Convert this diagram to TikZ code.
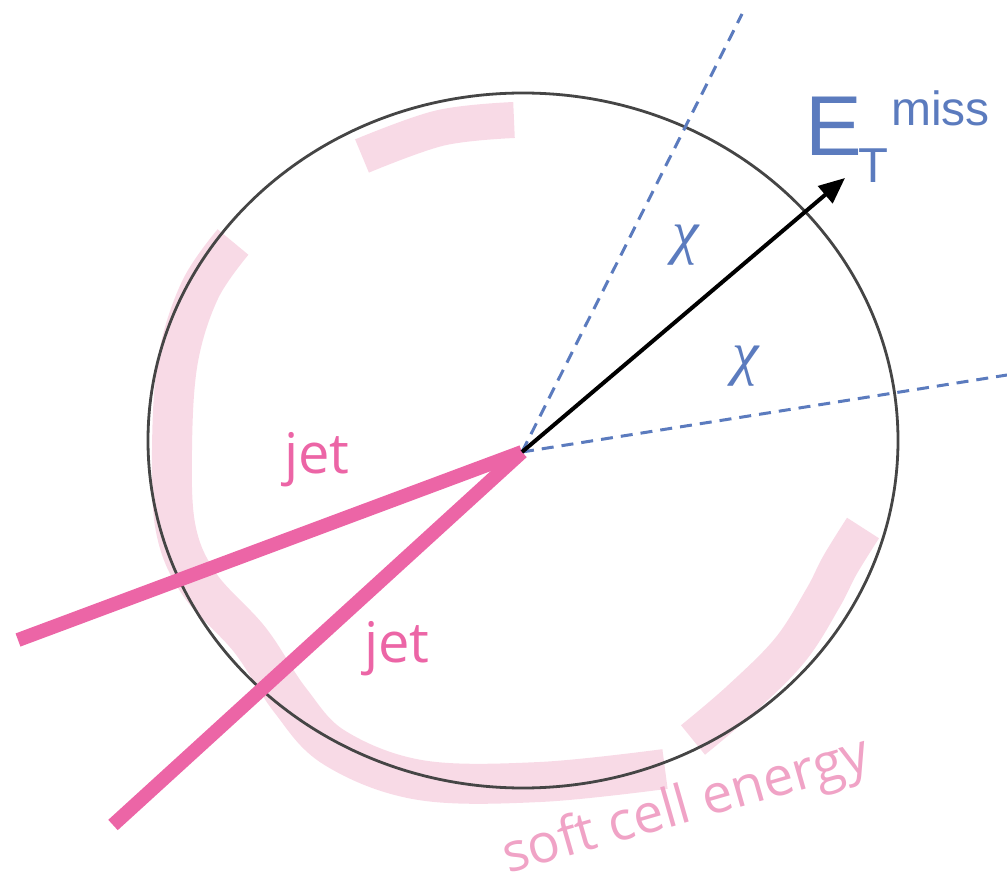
\documentclass[tikz,border=0pt]{standalone}
\usepackage{fontspec}
\setmainfont{Open Sans}
\newfontfamily\arialfont{Liberation Sans}
\newfontfamily\chifont{Liberation Serif}
\usetikzlibrary{arrows.meta}
\definecolor{jetpink}{HTML}{EC65A6}
\definecolor{bandpink}{HTML}{F8DAE6}
\definecolor{softtext}{HTML}{F0A3C6}
\definecolor{dblue}{HTML}{5B7BBE}
\definecolor{ringgray}{HTML}{454545}
\tikzset{
  band/.style={draw=bandpink, line width=38pt, line cap=butt, line join=round},
  jetline/.style={draw=jetpink, line width=14pt, line cap=butt},
  axis/.style={draw=dblue, line width=3pt, dash pattern=on 12pt off 8pt},
  met/.style={draw=black, line width=4pt, -{Triangle[length=26pt,width=22pt]}},
  ring/.style={draw=ringgray, line width=2.8pt},
  jetlabel/.style={text=jetpink, font=\fontsize{56}{60}\selectfont, inner sep=0pt},
  chilabel/.style={text=dblue, font=\chifont\itshape\fontsize{60}{64}\selectfont, inner sep=0pt},
  metlabel/.style={text=dblue, inner sep=0pt}
}
\begin{document}
\begin{tikzpicture}[x=1pt,y=-1pt]
\useasboundingbox (0,0) rectangle (1007,882);
% soft energy bands
\draw[band, line width=36pt] plot[smooth, tension=0.6] coordinates {(362,156) (440,128) (514,120)};
\draw[band, line width=40pt] plot[smooth, tension=0.6] coordinates {(233,242) (200,290) (178,360) (172,450) (176,530) (200,585) (250,640) (290,700) (335,748) (420,780) (540,782) (665,769)};
\draw[band, line width=38pt] plot[smooth, tension=0.6] coordinates {(863,528) (840,565) (823,598) (790,650) (740,700) (693,740)};
% detector ring
\node[draw=none, inner sep=0pt] (ring) at (523,440.5) {};
\draw[ring] (ring) ellipse [x radius=375, y radius=347.5];
% vertex and endpoints
\coordinate (o) at (522,452);
\coordinate (j1) at (18,640);
\coordinate (j2) at (113,825);
\coordinate (d1) at (742,14);
\coordinate (d2) at (1007,375);
\coordinate (m) at (845,178);
% axes
\draw[axis] (o) -- (d1);
\draw[axis] (o) -- (d2);
% jets
\draw[jetline] (j1) -- (o);
\draw[jetline] (j2) -- (o);
% missing ET arrow
\draw[met] (o) -- (m);
% labels
\node[jetlabel, anchor=base] (jl1) at (317,473) {jet};
\node[jetlabel, anchor=base] (jl2) at (397,662) {jet};
\node[chilabel] (c1) at (686,245) {χ};
\node[chilabel] (c2) at (746,366) {χ};
\node[metlabel, anchor=base west, font=\arialfont\fontsize{85}{90}\selectfont] (E) at (805,156) {E};
\node[metlabel, anchor=base west, font=\arialfont\fontsize{49}{52}\selectfont] (T) at (858,183) {T};
\node[metlabel, anchor=base west, font=\arialfont\fontsize{48}{52}\selectfont] (miss) at (891,126) {miss};
\node[text=softtext, anchor=base west, rotate=16, inner sep=0pt, font=\fontsize{54}{58}\selectfont] (soft) at (508,874) {soft cell energy};
\end{tikzpicture}
\end{document}
